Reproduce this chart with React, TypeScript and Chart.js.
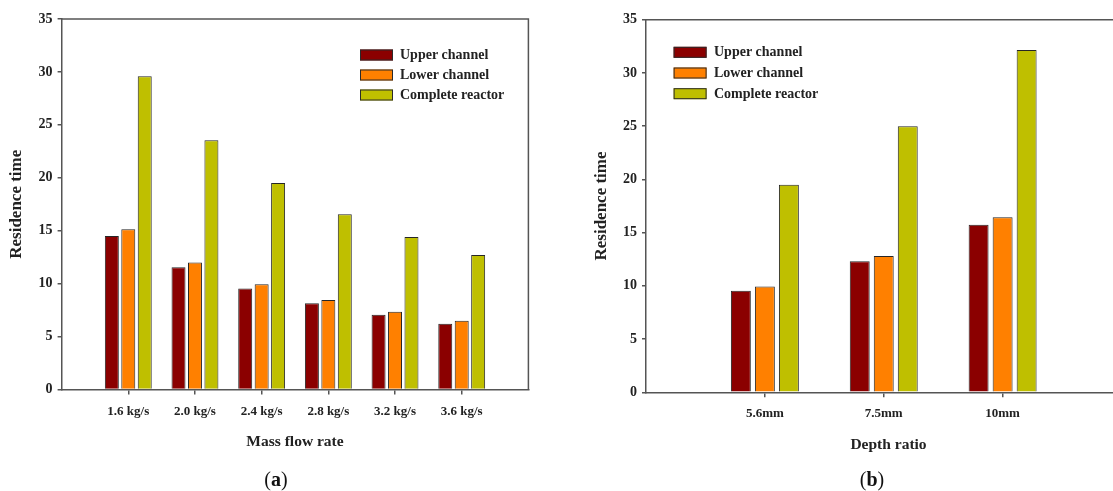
import React, { useEffect, useRef } from 'react';
import { Chart, registerables } from 'chart.js';

Chart.register(...registerables);

// ---------------- data ----------------
const seriesNames = ['Upper channel', 'Lower channel', 'Complete reactor'];
const seriesColors = ['#8B0000', '#FF8000', '#BFBF00'];

const massFlowLabels = ['1.6 kg/s', '2.0 kg/s', '2.4 kg/s', '2.8 kg/s', '3.2 kg/s', '3.6 kg/s'];
const massUpper = [14.5, 11.55, 9.55, 8.15, 7.05, 6.2];
const massLower = [15.15, 12.0, 9.95, 8.45, 7.35, 6.5];
const massComplete = [29.6, 23.55, 19.5, 16.55, 14.4, 12.7];

const depthLabels = ['5.6mm', '7.5mm', '10mm'];
const depthUpper = [9.55, 12.3, 15.75];
const depthLower = [9.95, 12.8, 16.45];
const depthComplete = [19.5, 25.0, 32.15];

const yTickValues = [0, 5, 10, 15, 20, 25, 30, 35];

const yTitle = 'Residence time';
const xTitleA = 'Mass flow rate';
const xTitleB = 'Depth ratio';

// ---------------- styling helpers ----------------
const FAMILY = "'Liberation Serif', 'Times New Roman', serif";
const TEXT = '#222';
const AXIS = '#555';
const font = (size: number) => ({ family: FAMILY, size, weight: 'bold' as const });

const framePlugin = {
  id: 'frameLegend',
  afterDraw(chart: any, _args: any, opts: any) {
    const { ctx, chartArea } = chart;
    const { left, top, right, bottom } = chartArea;
    ctx.save();
    ctx.strokeStyle = AXIS;
    ctx.lineWidth = 1.5;
    ctx.beginPath();
    ctx.moveTo(left, top);
    ctx.lineTo(right, top);
    ctx.lineTo(right, bottom);
    ctx.stroke();

    // legend
    const lg = opts.legend;
    ctx.font = `bold 14px ${FAMILY}`;
    ctx.textBaseline = 'middle';
    ctx.textAlign = 'left';
    chart.data.datasets.forEach((ds: any, i: number) => {
      const cy = lg.y + i * lg.rowH;
      ctx.fillStyle = ds.backgroundColor;
      ctx.fillRect(lg.x, cy - lg.boxH / 2, lg.boxW, lg.boxH);
      ctx.strokeStyle = '#2a2a2a';
      ctx.lineWidth = 1;
      ctx.strokeRect(lg.x + 0.5, cy - lg.boxH / 2 + 0.5, lg.boxW - 1, lg.boxH - 1);
      ctx.fillStyle = TEXT;
      ctx.fillText(ds.label, lg.textX, cy + 0.5);
    });
    ctx.restore();
  },
};

type PanelCfg = {
  labels: string[];
  values: number[][];
  xTitle: string;
  width: number;
  height: number;
  padTop: number;
  padRight: number;
  yAxisWidth: number;
  xAxisHeight: number;
  xTitlePad: number;
  yTitlePad: number;
  xMax: number;
  catPct: number;
  barPct: number;
  legend: { x: number; y: number; boxW: number; boxH: number; rowH: number; textX: number };
};

function BarPanel({ cfg, style }: { cfg: PanelCfg; style: React.CSSProperties }) {
  const ref = useRef<HTMLCanvasElement | null>(null);

  useEffect(() => {
    if (!ref.current) return;
    const { labels } = cfg;
    const chart = new Chart(ref.current, {
      type: 'bar',
      data: {
        datasets: cfg.values.map((vals, k) => ({
          label: seriesNames[k],
          data: vals.map((y, i) => ({ x: i, y })),
          backgroundColor: seriesColors[k],
          borderColor: '#262626',
          borderWidth: 1,
          categoryPercentage: cfg.catPct,
          barPercentage: cfg.barPct,
        })),
      },
      options: {
        animation: false,
        responsive: false,
        maintainAspectRatio: false,
        events: [],
        layout: { padding: { left: 0, top: cfg.padTop, right: cfg.padRight, bottom: 0 } },
        plugins: {
          legend: { display: false },
          tooltip: { enabled: false },
          frameLegend: { legend: cfg.legend },
        } as any,
        scales: {
          x: {
            type: 'linear',
            offset: false,
            min: -1,
            max: cfg.xMax,
            afterBuildTicks: (s: any) => {
              s.ticks = labels.map((_, i) => ({ value: i }));
            },
            afterFit: (s: any) => {
              s.height = cfg.xAxisHeight;
            },
            ticks: {
              autoSkip: false,
              maxRotation: 0,
              padding: 9,
              color: TEXT,
              font: font(13),
              callback: (v: any) => labels[v as number] ?? '',
            },
            grid: {
              offset: false,
              drawOnChartArea: false,
              drawTicks: true,
              tickLength: 5,
              color: AXIS,
              lineWidth: 1.5,
            },
            border: { display: true, color: AXIS, width: 1.5 },
            title: {
              display: true,
              text: cfg.xTitle,
              color: TEXT,
              font: font(15.5),
              padding: { top: 0, bottom: cfg.xTitlePad },
            },
          },
          y: {
            type: 'linear',
            min: 0,
            max: 35,
            afterBuildTicks: (s: any) => {
              s.ticks = yTickValues.map((v) => ({ value: v }));
            },
            afterFit: (s: any) => {
              s.width = cfg.yAxisWidth;
            },
            ticks: { padding: 5, color: TEXT, font: font(14) },
            grid: { drawOnChartArea: false, drawTicks: true, tickLength: 4, color: AXIS, lineWidth: 1.5 },
            border: { display: true, color: AXIS, width: 1.5 },
            title: {
              display: true,
              text: yTitle,
              color: TEXT,
              font: font(17),
              padding: { top: cfg.yTitlePad, bottom: 0 },
            },
          },
        },
      } as any,
      plugins: [framePlugin],
    });
    return () => chart.destroy();
  }, [cfg]);

  return <canvas ref={ref} width={cfg.width} height={cfg.height} style={style} />;
}

const panelA: PanelCfg = {
  labels: massFlowLabels,
  values: [massUpper, massLower, massComplete],
  xTitle: xTitleA,
  width: 540,
  height: 491,
  padTop: 19,
  padRight: 11.6,
  yAxisWidth: 61.6,
  xAxisHeight: 101.5,
  xTitlePad: 40,
  yTitlePad: 6,
  xMax: 6,
  catPct: 0.74,
  barPct: 0.85,
  legend: { x: 360, y: 55, boxW: 33, boxH: 11, rowH: 20, textX: 400 },
};

const panelB: PanelCfg = {
  labels: depthLabels,
  values: [depthUpper, depthLower, depthComplete],
  xTitle: xTitleB,
  width: 590,
  height: 491,
  padTop: 19.7,
  padRight: 19,
  yAxisWidth: 86,
  xAxisHeight: 98.7,
  xTitlePad: 36.7,
  yTitlePad: 31,
  xMax: 3.08,
  catPct: 0.606,
  barPct: 0.83,
  legend: { x: 113.6, y: 52.3, boxW: 33, boxH: 11, rowH: 20.7, textX: 154 },
};

const captionStyle = (cx: number): React.CSSProperties => ({
  position: 'absolute',
  left: cx - 50,
  top: 468,
  width: 100,
  textAlign: 'center',
  fontFamily: FAMILY,
  fontSize: 20,
  lineHeight: '22px',
  color: '#111',
});

export default function App() {
  return (
    <div
      style={{
        position: 'fixed',
        left: 0,
        top: 0,
        width: 1113,
        height: 491,
        overflow: 'hidden',
        background: '#fff',
      }}
    >
      <BarPanel cfg={panelA} style={{ position: 'absolute', left: 0, top: 0 }} />
      <BarPanel cfg={panelB} style={{ position: 'absolute', left: 560, top: 0 }} />
      <div style={captionStyle(276)}>
        (<b>a</b>)
      </div>
      <div style={captionStyle(872)}>
        (<b>b</b>)
      </div>
    </div>
  );
}
